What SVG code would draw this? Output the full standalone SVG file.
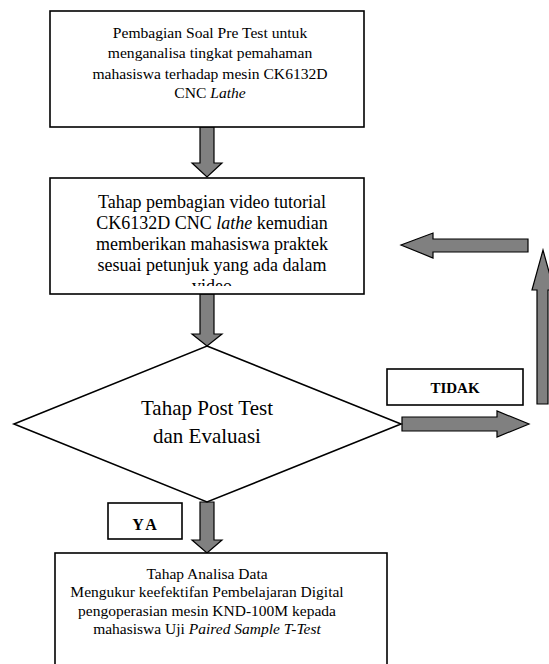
<svg xmlns="http://www.w3.org/2000/svg" width="549" height="664" viewBox="0 0 549 664">
<style>
.box{fill:#fff;stroke:#000;stroke-width:1.6}
.arr{fill:#808080;stroke:#000;stroke-width:1.2;stroke-linejoin:miter}
.t{font-family:"Liberation Serif","Times New Roman",serif;fill:#000;text-anchor:middle}
.b{font-weight:bold}
</style>
<defs>
<clipPath id="c2"><rect x="50" y="178" width="314" height="108"/></clipPath>
</defs>
<rect width="549" height="664" fill="#fff"/>
<g id="connectors">
<path class="arr" d="M200,127 H214 V163 H222 L207,177 L192,163 H200 Z"/>
<path class="arr" d="M200,294 H214 V334 H222 L207,346 L192,334 H200 Z"/>
<path class="arr" d="M200,502 H214 V540 H222 L207,553 L192,540 H200 Z"/>
<path class="arr" d="M402,417 H497 V411 L529,424 L497,437 V431 H402 Z"/>
<path class="arr" d="M537,404 V290 H532 L543,250 L554,290 H548 V404 Z"/>
<path class="arr" d="M528,239 H433 V233 L401,245 L433,258 V252 H528 Z"/>
</g>
<g id="n1">
<rect class="box" x="50" y="11" width="314" height="116" stroke-width="2"/>
<text class="t" font-size="15.6"><tspan x="210" y="38">Pembagian Soal Pre Test untuk</tspan><tspan x="210" y="58">menganalisa tingkat pemahaman</tspan><tspan x="210" y="79">mahasiswa terhadap mesin CK6132D</tspan><tspan x="210" y="98">CNC <tspan font-style="italic">Lathe</tspan></tspan></text>
</g>
<g id="n2">
<rect class="box" x="50" y="178" width="314" height="116"/>
<text class="t" font-size="18" clip-path="url(#c2)"><tspan x="212" y="208">Tahap pembagian video tutorial</tspan><tspan x="212" y="229">CK6132D CNC <tspan font-style="italic">lathe</tspan> kemudian</tspan><tspan x="212" y="250">memberikan mahasiswa praktek</tspan><tspan x="212" y="271">sesuai petunjuk yang ada dalam</tspan><tspan x="212" y="292">video</tspan></text>
</g>
<g id="n3">
<polygon class="box" points="207,346 401,424 207,502 14,424"/>
<text class="t" font-size="21"><tspan x="207" y="415">Tahap Post Test</tspan><tspan x="207" y="443">dan Evaluasi</tspan></text>
</g>
<g id="n4">
<rect class="box" x="387" y="369" width="136" height="36"/>
<text class="t b" font-size="15" x="455" y="393">TIDAK</text>
</g>
<g id="n5">
<rect class="box" x="108" y="503" width="74" height="36"/>
<text class="t b" font-size="16" x="146" y="530" letter-spacing="3">YA</text>
</g>
<g id="n6">
<rect class="box" x="55" y="553" width="332" height="120"/>
<text class="t" font-size="15.5"><tspan x="207" y="579">Tahap Analisa Data</tspan><tspan x="207" y="597">Mengukur keefektifan Pembelajaran Digital</tspan><tspan x="207" y="616">pengoperasian mesin KND-100M kepada</tspan><tspan x="207" y="634">mahasiswa Uji <tspan font-style="italic">Paired Sample T-Test</tspan></tspan></text>
</g>
</svg>
